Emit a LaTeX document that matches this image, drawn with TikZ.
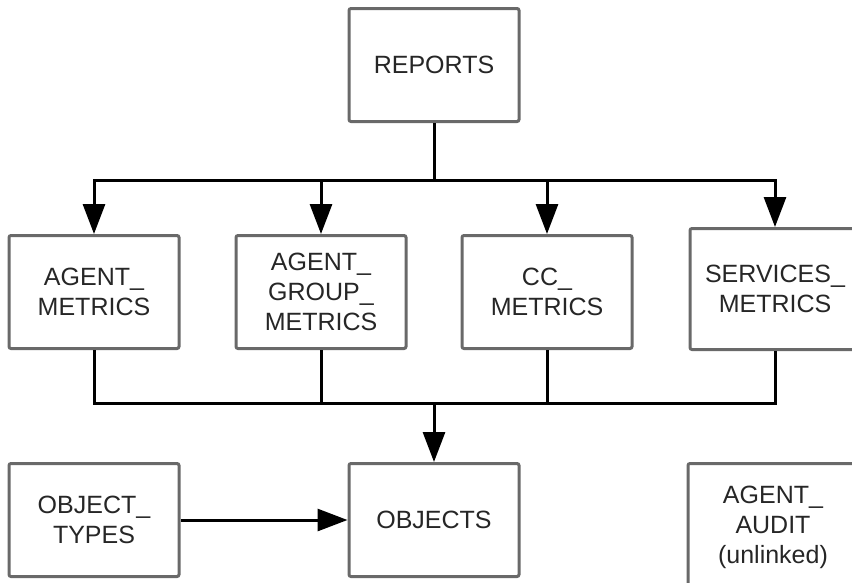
\documentclass[tikz,border=0pt]{standalone}
\usepackage{fontspec}
\setmainfont{Liberation Sans}
\usetikzlibrary{arrows.meta}
\definecolor{boxgray}{RGB}{105,105,105}
\tikzset{
  tablebox/.style={draw=boxgray, line width=3pt, rounded corners=2pt,
    minimum width=170pt, minimum height=113pt, inner sep=0pt, align=center,
    font=\fontsize{25}{30}\selectfont, text=black!85},
  link/.style={line width=3pt},
  linkarrow/.style={link, -{Triangle[length=30pt,width=22pt]}}
}
\begin{document}
\begin{tikzpicture}[x=1pt,y=-1pt]
    \clip (0,0) rectangle (852,582);

    % Tablas
    \node[tablebox] (reports) at (434,65) {REPORTS};
    \node[tablebox] (agentm) at (94,292) {AGENT\_\\METRICS};
    \node[tablebox] (agentgm) at (321,292) {AGENT\_\\GROUP\_\\METRICS};
    \node[tablebox] (ccm) at (547,292) {CC\_\\METRICS};
    \node[tablebox,minimum height=121pt] (servm) at (775,289) {SERVICES\_\\METRICS};
    \node[tablebox] (objtypes) at (94,520) {OBJECT\_\\TYPES};
    \node[tablebox] (objects) at (434,520) {OBJECTS};
    \node[tablebox,minimum height=127pt] (audit) at (773,527) {AGENT\_\\AUDIT\\(unlinked)};

    % Enlaces
    \coordinate (bus1) at (434,180);
    \coordinate (bus2) at (434,403);

    \draw[link] (reports.south) -- (bus1);
    \draw[linkarrow] (bus1) -| (agentm.north);
    \draw[linkarrow] (bus1) -| (agentgm.north);
    \draw[linkarrow] (bus1) -| (ccm.north);
    \draw[linkarrow] (bus1) -| (servm.north);

    \draw[link] (agentm.south) |- (bus2);
    \draw[link] (agentgm.south) |- (bus2);
    \draw[link] (ccm.south) |- (bus2);
    \draw[link] (servm.south) |- (bus2);
    \draw[linkarrow] (bus2) -- (objects.north);

    \draw[linkarrow] (objtypes) -- (objects);
\end{tikzpicture}
\end{document}
